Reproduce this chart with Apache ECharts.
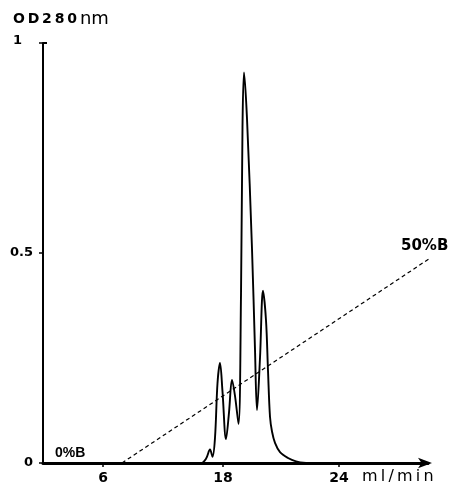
<!DOCTYPE html>
<html>
<head>
<meta charset="utf-8">
<script src="https://cdn.jsdelivr.net/npm/echarts@6/dist/echarts.min.js"></script>
<style>html,body{margin:0;padding:0;background:#fff}#c{width:453px;height:492px}</style>
</head>
<body>
<div id="c"></div>
<script>
// Elution volume positions (axis units) and OD280 absorbance
const elutionX = [0, 15.8, 16.3, 16.7, 16.95, 17.2, 17.45, 17.7, 17.95, 18.3, 18.6, 18.9, 19.2, 19.55, 19.8, 19.95, 20.1, 20.4, 20.9, 21.2, 21.4, 21.7, 22.0, 22.3, 22.5, 22.7, 22.9, 23.2, 23.7, 24.5, 25.3, 26.3];
const od280 = [0, 0, 0.01, 0.032, 0.015, 0.06, 0.19, 0.238, 0.17, 0.057, 0.12, 0.198, 0.16, 0.093, 0.4, 0.8, 0.93, 0.82, 0.51, 0.27, 0.126, 0.25, 0.41, 0.34, 0.22, 0.11, 0.075, 0.048, 0.026, 0.012, 0.004, 0];
// Gradient (%B) line, expressed on the OD scale
const gradientX = [7.9, 38.6];
const gradientY = [0, 0.486];
// Axis ticks
const xTickValues = [6, 18, 29.6];
const xTickLabels = ['6', '18', '24'];
const yTickValues = [0, 0.5, 1];
const yTickLabels = ['0', '0.5', '1'];

const chart = echarts.init(document.getElementById('c'), null, {renderer: 'canvas'});
const FONT = 'DejaVu Sans';
const S = '\u2009';
chart.setOption({
  animation: false,
  backgroundColor: '#fff',
  grid: {left: 43, top: 43, width: 385, height: 420, containLabel: false},
  xAxis: {
    type: 'value', min: 0, max: 38.5,
    splitLine: {show: false},
    axisLine: {lineStyle: {color: '#000', width: 3}, symbol: ['none', 'arrow'], symbolSize: [8, 14], symbolOffset: [0, 4]},
    axisTick: {customValues: xTickValues, length: 4, lineStyle: {color: '#000', width: 1.5}},
    axisLabel: {customValues: xTickValues, margin: 8, color: '#000', fontFamily: FONT, fontWeight: 'bold', fontSize: 14,
      formatter: v => xTickLabels[xTickValues.findIndex(t => Math.abs(t - v) < 1e-6)]}
  },
  yAxis: [{
    type: 'value', min: 0, max: 1,
    splitLine: {show: false},
    axisLine: {lineStyle: {color: '#000', width: 2}},
    axisTick: {customValues: yTickValues, length: 4, lineStyle: {color: '#000', width: 1.5}},
    axisLabel: {customValues: yTickValues, margin: 10, color: '#000', fontFamily: FONT, fontWeight: 'bold', fontSize: 13,
      formatter: v => { const i = yTickValues.findIndex(t => Math.abs(t - v) < 1e-6); return v === 1 ? '{p|' + yTickLabels[i] + '}' : yTickLabels[i]; },
      rich: {p: {fontFamily: FONT, fontWeight: 'bold', fontSize: 13, color: '#000', padding: [0, 11, 4, 0]}}}
  }, {
    type: 'value', min: 0, max: 1, position: 'left',
    splitLine: {show: false},
    axisLine: {show: false},
    axisTick: {customValues: [1], inside: true, length: 4, lineStyle: {color: '#000', width: 2}},
    axisLabel: {show: false}
  }],
  series: [
    {type: 'line', data: elutionX.map((x, i) => [x, od280[i]]), smooth: 0.35, symbol: 'none',
     lineStyle: {color: '#000', width: 1.9}, z: 3},
    {type: 'line', data: gradientX.map((x, i) => [x, gradientY[i]]), symbol: 'none',
     lineStyle: {color: '#000', width: 1.2, type: [4, 3]}, z: 2}
  ],
  graphic: [
    {type: 'text', left: 13, top: 10, style: {text: '{a|' + ['O','D','2','8','0'].join(S) + '}{b|nm}', rich: {
      a: {fontFamily: FONT, fontWeight: 'bold', fontSize: 14, fill: '#000'},
      b: {fontFamily: FONT, fontSize: 18, fill: '#000', padding: [0, 0, 0, 3]}}}},
    {type: 'text', left: 55, top: 446, style: {text: '0%B', fontFamily: 'Liberation Sans', fontWeight: 'bold', fontSize: 14, fill: '#000'}},
    {type: 'text', left: 401, top: 239, style: {text: '50%B', fontFamily: FONT, fontWeight: 'bold', fontSize: 15, fill: '#000'}},
    {type: 'text', left: 362, top: 469, style: {text: ['m','l','/','m','i','n'].join(S), fontFamily: FONT, fontSize: 16, fill: '#000'}}
  ]
});
</script>
</body>
</html>
